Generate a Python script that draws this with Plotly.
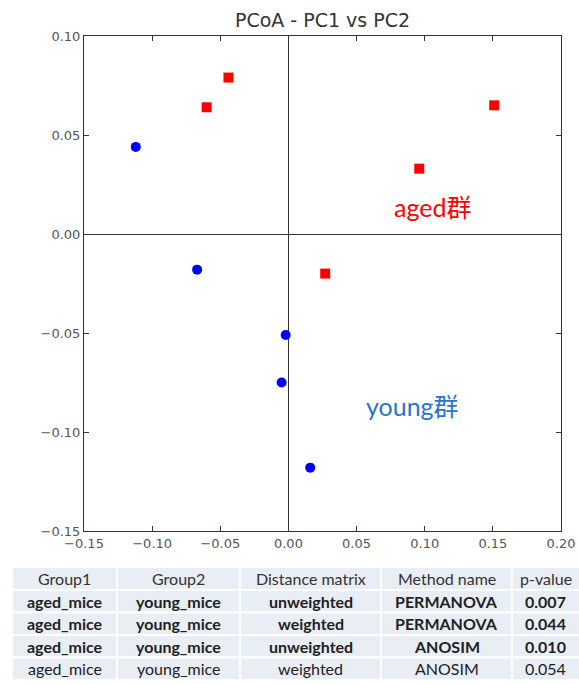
import plotly.graph_objects as go

W, H = 579, 684

# --- data ---
young_x = [-0.112, -0.067, -0.002, -0.005, 0.016]
young_y = [0.044, -0.018, -0.051, -0.075, -0.118]
aged_x = [-0.060, -0.044, 0.027, 0.096, 0.151]
aged_y = [0.064, 0.079, -0.020, 0.033, 0.065]

tick_vals_x = [-0.15, -0.10, -0.05, 0.00, 0.05, 0.10, 0.15, 0.20]
tick_vals_y = [-0.15, -0.10, -0.05, 0.00, 0.05, 0.10]

table_header = ["Group1", "Group2", "Distance matrix", "Method name", "p-value"]
col_group1 = ["aged_mice", "aged_mice", "aged_mice", "aged_mice"]
col_group2 = ["young_mice", "young_mice", "young_mice", "young_mice"]
col_distance = ["unweighted", "weighted", "unweighted", "weighted"]
col_method = ["PERMANOVA", "PERMANOVA", "ANOSIM", "ANOSIM"]
col_pvalue = ["0.007", "0.044", "0.010", "0.054"]
row_bold = [True, True, True, False]

# --- layout geometry (window pixels) ---
px_l, px_r, px_t, px_b = 84, 561, 36, 531
col_edges = [12, 117, 240, 381, 512, 582]
row_edges = [567, 590, 612.5, 635, 657.5, 680]


def fx(p):
    return p / W


def fy(p):
    return 1 - p / H


fig = go.Figure()

fig.add_trace(go.Scatter(
    x=young_x, y=young_y, mode="markers",
    marker=dict(symbol="circle", size=10, color="#0000ff", line=dict(width=0)),
    showlegend=False, hoverinfo="x+y"))
fig.add_trace(go.Scatter(
    x=aged_x, y=aged_y, mode="markers",
    marker=dict(symbol="square", size=10, color="#ff0000", line=dict(width=0)),
    showlegend=False, hoverinfo="x+y"))

# --- table built from shapes + annotations ---
columns = [col_group1, col_group2, col_distance, col_method, col_pvalue]
shapes = []
annotations = []
tfont = "Lato, Open Sans, sans-serif"
for r in range(len(row_edges) - 1):
    for c in range(len(col_edges) - 1):
        x0, x1 = col_edges[c], col_edges[c + 1]
        y0, y1 = row_edges[r], row_edges[r + 1]
        shapes.append(dict(type="rect", xref="paper", yref="paper",
                           x0=fx(x0), x1=fx(x1), y0=fy(y1), y1=fy(y0),
                           fillcolor="#e9edf4", line=dict(color="white", width=2),
                           layer="below"))
        if r == 0:
            txt = table_header[c]
            color = "#333333"
        else:
            v = columns[c][r - 1]
            txt = f"<b>{v}</b>" if row_bold[r - 1] else v
            color = "#222222"
        annotations.append(dict(x=fx((x0 + min(x1, 579)) / 2), y=fy((y0 + y1) / 2),
                                xref="paper", yref="paper", text=txt, showarrow=False,
                                xanchor="center", yanchor="middle",
                                font=dict(family=tfont, size=16, color=color)))

annotations += [
    dict(x=0.106, y=0.0136, xref="x", yref="y", text="aged群", showarrow=False,
         font=dict(family="Lato, Noto Sans CJK SC", size=25, color="#ff0000")),
    dict(x=0.091, y=-0.087, xref="x", yref="y", text="young群", showarrow=False,
         font=dict(family="Lato, Noto Sans CJK SC", size=25, color="#2a75c9")),
]

axis_common = dict(
    automargin=False,
    showgrid=False, zeroline=True, zerolinecolor="#333333", zerolinewidth=1,
    showline=True, linecolor="#333333", linewidth=1, mirror="ticks",
    ticks="inside", ticklen=5, tickcolor="#333333",
    tickfont=dict(family="DejaVu Sans", size=13, color="#555555"),
    tickformat=".2f", ticklabeloverflow="allow",
)

fig.update_layout(
    width=W, height=H,
    margin=dict(l=0, r=0, t=0, b=0),
    paper_bgcolor="white", plot_bgcolor="white",
    xaxis=dict(domain=[fx(px_l), fx(px_r)], range=[-0.15, 0.20],
               tickvals=tick_vals_x, **axis_common),
    yaxis=dict(domain=[fy(px_b), fy(px_t)], range=[-0.15, 0.10],
               tickvals=tick_vals_y, **axis_common),
    title=dict(text="PCoA - PC1 vs PC2", x=fx((px_l + px_r) / 2), xanchor="center",
               y=fy(20), yanchor="middle",
               font=dict(family="DejaVu Sans", size=19, color="#333333")),
    shapes=shapes,
    annotations=annotations,
)

fig.write_html(
    "out.html",
    config={"displayModeBar": False},
    post_script="document.documentElement.style.overflow='hidden';"
                "document.body.style.margin='0';"
                "document.body.style.overflow='hidden';",
)
